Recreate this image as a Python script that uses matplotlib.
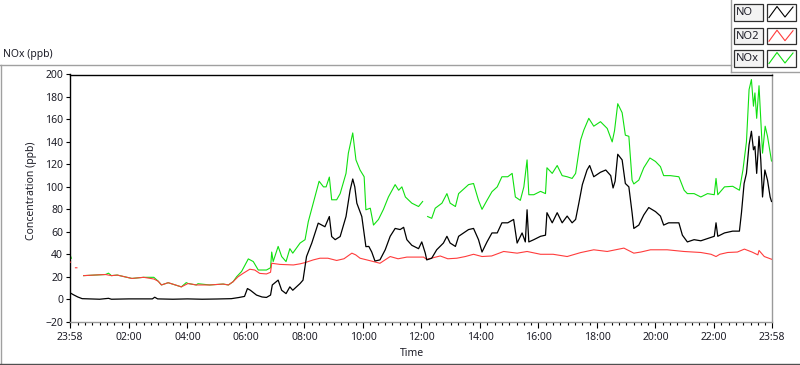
import numpy as np
import pandas as pd
import matplotlib
matplotlib.use('Agg')
import matplotlib.pyplot as plt
import matplotlib.dates as mdates
from matplotlib.lines import Line2D
from matplotlib.patches import Rectangle

plt.rcParams['font.family'] = ['Noto Sans', 'DejaVu Sans']
TXT = '#1e1e28'

# tider i timar frå midnatt (-0.033 = 23:58 dagen før), nan-verdi = hol i serien
no_t = [-0.033, 0.1, 0.25, 0.4, 1.0, 1.3, 1.4, 2.0, 2.8, 2.88, 2.98, 3.5, 4.0, 4.5, 5.0, 5.5,
        5.75, 5.95, 6.05, 6.15, 6.36, 6.55, 6.7, 6.84, 6.9, 7.1, 7.22, 7.37, 7.5, 7.6, 7.85,
        7.95, 8.02, 8.07, 8.25, 8.47, 8.7, 8.85, 8.93, 9.05, 9.22, 9.42, 9.56, 9.65, 9.72, 9.79, 9.96,
        10.1, 10.2, 10.3, 10.41, 10.58, 10.76, 10.93, 11.1, 11.27, 11.39, 11.5, 11.67, 11.9, 12.01, 12.13, 12.18,
        12.35, 12.52, 12.75, 12.87, 12.98, 13.16, 13.27, 13.44, 13.61, 13.78, 13.95, 14.07, 14.24, 14.41, 14.59, 14.75,
        14.95, 15.15, 15.27, 15.44, 15.55, 15.61, 15.67, 15.84, 16.07, 16.24, 16.29, 16.47, 16.64, 16.81, 16.98, 17.15,
        17.27, 17.38, 17.5, 17.66, 17.75, 17.89, 18.12, 18.3, 18.47, 18.55, 18.62, 18.71, 18.86, 18.97, 19.09, 19.2,
        19.26, 19.43, 19.6, 19.77, 20.0, 20.17, 20.28, 20.45, 20.8, 20.92, 21.09, 21.32, 21.55, 21.78, 22.01, 22.07,
        22.13, 22.36, 22.64, 22.87, 22.94, 23.03, 23.11, 23.2, 23.28, 23.35, 23.4, 23.46, 23.54, 23.6, 23.66, 23.74,
        23.83, 23.92, 23.967]
no_v = [6, 4, 2, 0.5, 0, 0.8, 0, 0.3, 0.3, 1.8, 0.3, 0, 0.3, 0, 0.2, 0.5,
        1.5, 2.5, 9.5, 8, 3.7, 2, 1.6, 3.7, 12.7, 17, 8, 5, 11, 8, 14,
        17, 29, 38, 50, 67.7, 64.5, 73.6, 55.8, 53, 55.8, 73.6, 97, 107, 100, 85.5, 73.6,
        46.8, 47, 42, 34, 35, 44, 56, 63, 62, 64, 53, 48, 45, 51, 41, 35,
        36.5, 44, 50, 56, 50, 47, 56, 59, 62, 63, 53, 42, 51, 59, 59, 68,
        68, 71, 50, 59, 51, 79.6, 51, 53, 56, 57, 77, 68, 77, 68, 74, 68,
        71, 85.5, 102, 115, 119, 109, 113, 115, 110, 99, 105, 129, 124, 103, 100, 77,
        63, 66, 75, 81.6, 78, 74, 66, 68, 68, 57, 51, 53, 52, 54, 56, 68,
        56, 59, 60.6, 60.6, 77, 103, 112, 137.5, 149.5, 133, 136, 112, 145, 124, 91, 115,
        106, 91, 87]

no2_t = [-0.033, 0.0, 0.08, 0.17, 0.22, 0.33, 0.45, 0.8, 1.2, 1.4, 1.6, 1.85, 2.1, 2.5,
         2.85, 3.0, 3.11, 3.34, 3.55, 3.79, 4.02, 4.3, 4.76, 5.22, 5.4, 5.56, 5.73, 5.9,
         6.13, 6.3, 6.47, 6.7, 6.84, 6.88, 7.16, 7.62, 7.85, 8.02, 8.3, 8.53, 8.8, 9.1,
         9.35, 9.62, 9.75, 9.9, 10.36, 10.58, 10.93, 11.2, 11.5, 12.07, 12.18, 12.64, 12.9,
         13.21, 13.5, 13.78, 14.07, 14.4, 14.81, 15.27, 15.61, 16.07, 16.5, 16.98, 17.44,
         17.89, 18.35, 18.92, 19.26, 19.5, 19.83, 20.4, 20.97, 21.55, 21.9, 22.07, 22.2,
         22.47, 22.8, 23.04, 23.3, 23.5, 23.54, 23.72, 23.967]
no2_v = [33, 33, np.nan, 28, 28, np.nan, 21, 21.5, 22, 21, 21.5, 20, 18.5, 19.5,
         18, 16, 12.7, 14.7, 13, 11, 14, 12.7, 12.7, 13.5, 12.7, 15.6, 20, 23,
         26.7, 26, 23, 22.5, 24, 32, 31, 30.5, 31.5, 32.6, 35, 36.5, 36.5, 34.5,
         36, 41, 39.5, 36.5, 33.5, 32, 38, 36, 37.5, 37.5, 35.5, 38.5, 36,
         36.5, 38, 40, 38, 38.5, 42.5, 41, 42.5, 40, 40, 38, 41.5,
         44, 42.5, 45.5, 41, 42, 44, 44, 42.5, 41.6, 40, 38, 40,
         41.6, 42, 44.6, 42, 39.5, 43.4, 38, 35.6]

nox_t = [-0.033, 0.0, 0.03, 0.2, 0.45, 0.8, 1.2, 1.3, 1.4, 1.6, 1.85, 2.1, 2.5, 2.85,
         3.0, 3.11, 3.34, 3.55, 3.79, 3.96, 4.02, 4.3, 4.36, 4.76, 5.22, 5.4, 5.56, 5.68,
         5.85, 6.08, 6.25, 6.42, 6.7, 6.84, 6.88, 6.93, 7.1, 7.22, 7.37, 7.5, 7.6, 7.85,
         8.02, 8.13, 8.3, 8.5, 8.65, 8.74, 8.85, 8.93, 9.1, 9.22, 9.42, 9.5, 9.65, 9.76,
         9.9, 10.04, 10.1, 10.25, 10.36, 10.53, 10.7, 10.87, 11.1, 11.22, 11.33, 11.45, 11.67, 11.9,
         12.04, 12.12, 12.21, 12.35, 12.47, 12.7, 12.87, 12.98, 13.16, 13.27, 13.44, 13.61, 13.78, 13.95,
         14.07, 14.24, 14.41, 14.59, 14.75, 14.95, 15.1, 15.21, 15.38, 15.5, 15.61, 15.67, 15.84, 16.07,
         16.24, 16.29, 16.47, 16.64, 16.81, 16.98, 17.15, 17.27, 17.44, 17.55, 17.72, 17.89, 18.12, 18.35,
         18.52, 18.6, 18.71, 18.86, 18.97, 19.09, 19.2, 19.26, 19.43, 19.6, 19.81, 20.0, 20.17, 20.28,
         20.51, 20.8, 20.98, 21.09, 21.32, 21.55, 21.78, 22.01, 22.07, 22.13, 22.36, 22.64, 22.87, 22.99,
         23.11, 23.2, 23.28, 23.35, 23.4, 23.46, 23.54, 23.6, 23.66, 23.75, 23.83, 23.95, 23.967]
nox_v = [39.7, 38.5, 36.5, np.nan, 21, 21.5, 22, 23.2, 21, 21.5, 20, 18.5, 19.5, 19.5,
         16, 12.7, 14.7, 13, 11, 14.8, 14, 12.7, 13.8, 12.7, 13.5, 12.7, 15.6, 20,
         24.7, 35.9, 33.5, 26, 26, 28, 42, 33.5, 47, 38, 33.5, 45, 41, 50,
         53, 69, 85.5, 105, 100, 100, 108.7, 88.5, 88.5, 94, 112, 130, 148, 124,
         115, 109, 79.6, 81, 66, 71, 80, 91, 102, 97, 100, 91, 85.5, 82.5,
         87, np.nan, 73.6, 72, 81, 85.5, 94, 85.5, 82.5, 94, 98, 102, 103, 88,
         80, 88, 95.7, 100, 109, 109, 112, 91, 88, 100, 124, 93, 93, 96,
         94, 117, 112, 119, 110, 109, 107.5, 112, 141.6, 150.5, 161, 154, 158, 152,
         140, 150, 174, 166, 146, 145, 106, 102.6, 106, 117, 125.7, 122.6, 118, 110,
         110, 109, 97, 94, 94, 91, 94, 93, 107.5, 93, 100, 100.5, 97, 115,
         140, 186.6, 195.5, 171.8, 183.6, 161, 190, 159.6, 130, 154, 145, 126, 123]

y_ticks = list(range(-20, 201, 20))
x_tick_hours = [-2 / 60, 2, 4, 6, 8, 10, 12, 14, 16, 18, 20, 22, 23 + 58 / 60]

base = pd.Timestamp('2020-01-02 00:00')


def to_time(hours):
    return base + pd.to_timedelta(np.array(hours) * 3600, unit='s').round('s')


W, H = 800, 365
fig = plt.figure(figsize=(W / 100, H / 100), dpi=100)


def fx(x):
    return x / W


def fy(y):
    return 1 - y / H


ax = fig.add_axes([fx(69.5), fy(321.7), fx(771.5) - fx(69.5), fy(74.5) - fy(321.7)])

ax.plot(to_time(nox_t), nox_v, color='#10e010', lw=0.8, zorder=2)
ax.plot(to_time(no2_t), no2_v, color='#ff3c3c', lw=0.8, zorder=3)
ax.plot(to_time(no_t), no_v, color='black', lw=0.9, zorder=4)

ax.set_xlim(base + pd.Timedelta(minutes=-2), base + pd.Timedelta(hours=23, minutes=58))
ax.set_ylim(-20, 200)
ax.set_yticks(y_ticks)
ax.set_xticks(to_time(x_tick_hours))
ax.xaxis.set_major_formatter(mdates.DateFormatter('%H:%M'))
ax.xaxis.set_minor_locator(mdates.MinuteLocator(byminute=[0, 15, 30, 45]))

ax.tick_params(axis='both', which='major', labelsize=7.5, colors='black', labelcolor=TXT,
               width=0.8)
ax.tick_params(axis='y', length=3, pad=1.5)
ax.tick_params(axis='x', which='major', length=4.5, pad=3)
ax.tick_params(axis='x', which='minor', length=2.5, width=0.8)

for side in ['top', 'left']:
    ax.spines[side].set_color('black')
    ax.spines[side].set_linewidth(1.0)
for side in ['right', 'bottom']:
    ax.spines[side].set_color('#9a9a9a')
    ax.spines[side].set_linewidth(1.0)

ax.set_xlabel('Time', fontsize=7.5, color=TXT, va='center')
ax.xaxis.set_label_coords((412 - 69.5) / 702, -(354 - 321.7) / 247.2)
ax.set_ylabel('Concentration (ppb)', fontsize=7.5, color=TXT, va='center')
ax.yaxis.set_label_coords((31.5 - 69.5) / 702, (321.7 - 191) / 247.2)

# ramme og tittel
fig.text(fx(3), fy(55), 'NOx (ppb)', fontsize=7.5, color=TXT, va='center', ha='left')
frame = '#a0a0a0'
fig.add_artist(Line2D([fx(0), fx(731)], [fy(65), fy(65)], color=frame, lw=1))
fig.add_artist(Line2D([fx(0.5), fx(0.5)], [fy(65), fy(363.5)], color=frame, lw=1))
fig.add_artist(Line2D([fx(0), fx(800)], [fy(363.5), fy(363.5)], color='#505050', lw=1))
fig.add_artist(Line2D([fx(731), fx(731)], [fy(0), fy(72)], color=frame, lw=1))
fig.add_artist(Line2D([fx(731), fx(800)], [fy(72), fy(72)], color=frame, lw=1))

# forklaring
names = ['NO', 'NO2', 'NOx']
colors = ['black', '#ff3c3c', '#10e010']
tops = [4, 27.7, 50]
for name, col, top in zip(names, colors, tops):
    bh = 16.7
    fig.add_artist(Rectangle((fx(733.5), fy(top + bh)), fx(762.7) - fx(733.5), fy(top) - fy(top + bh),
                             facecolor='#f3f3f3', edgecolor='#303030', lw=0.9))
    fig.text(fx(735.5), fy(top + bh / 2), name, fontsize=8, color=TXT, va='center', ha='left')
    fig.add_artist(Rectangle((fx(766.7), fy(top + bh)), fx(796) - fx(766.7), fy(top) - fy(top + bh),
                             facecolor='white', edgecolor='#303030', lw=0.9))
    zx = [769, 777, 785, 793]
    zy = [top + 13.5, top + 2.5, top + 13, top + 3]
    fig.add_artist(Line2D([fx(v) for v in zx], [fy(v) for v in zy], color=col, lw=0.8))

fig.savefig('out.png', dpi=100)
